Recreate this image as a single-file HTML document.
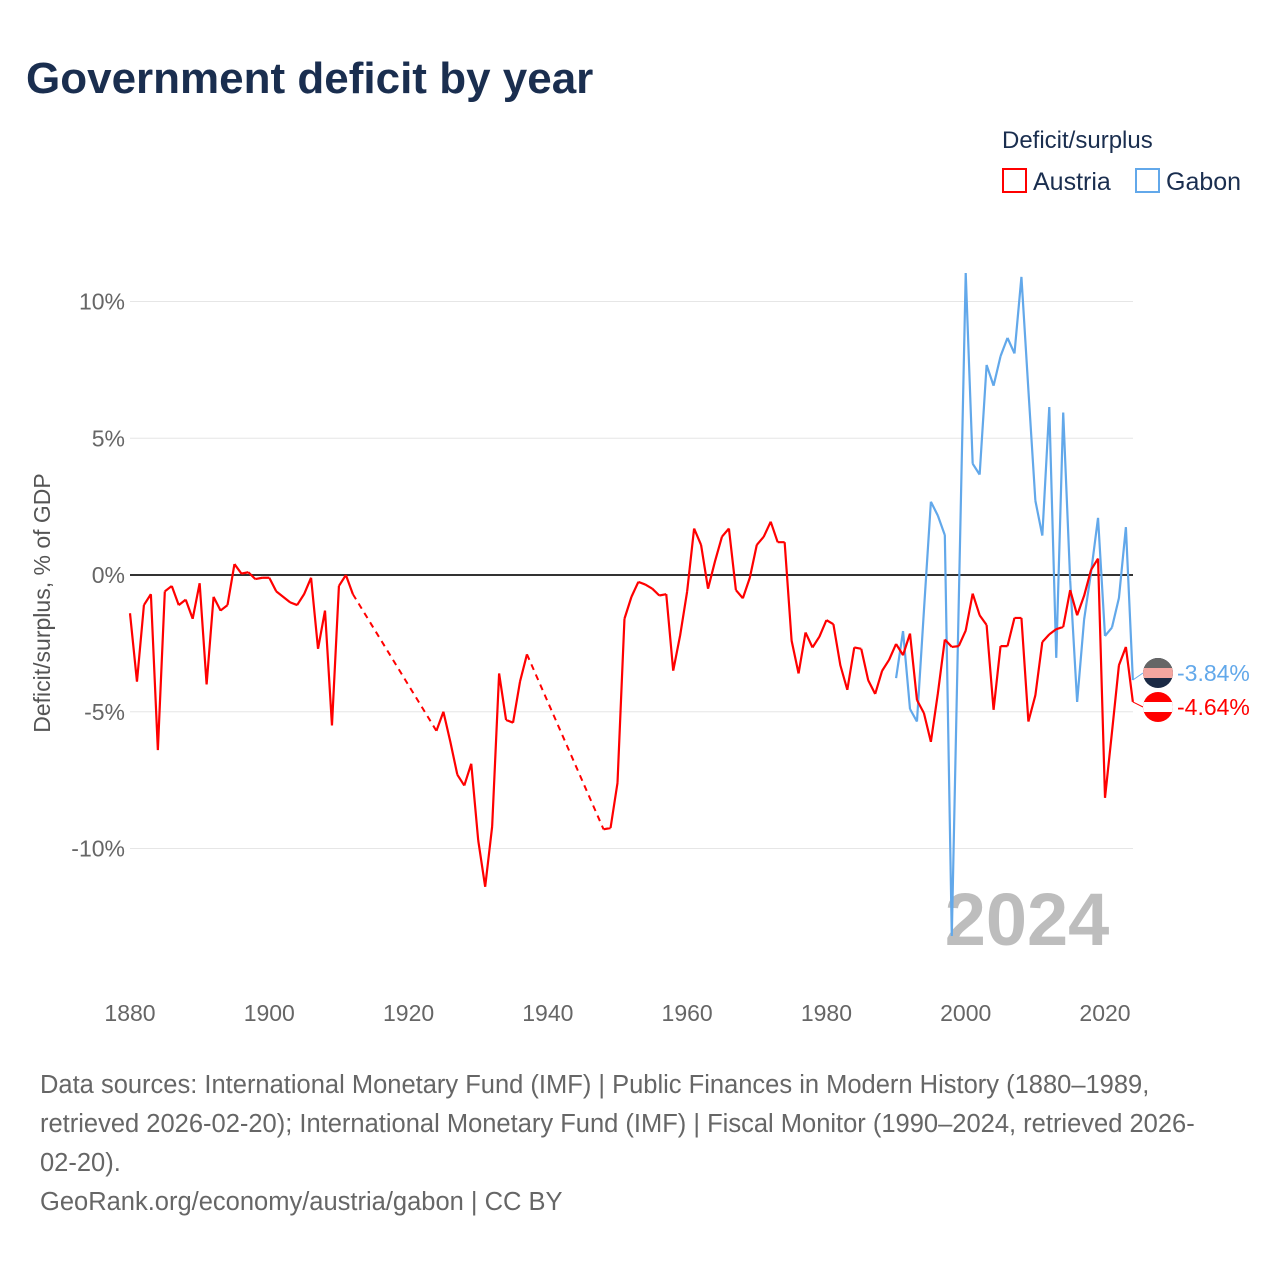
<!DOCTYPE html>
<html><head><meta charset="utf-8"><style>
body{margin:0;background:#fff;}
svg text{font-family:"Liberation Sans",sans-serif;}
</style></head><body>
<svg id="chart" width="1280" height="1280" xmlns="http://www.w3.org/2000/svg">
<defs>
<clipPath id="c1"><circle cx="1158" cy="673" r="15"/></clipPath>
<clipPath id="c2"><circle cx="1158" cy="707" r="15"/></clipPath>
</defs>
<text x="26" y="93" font-size="44" font-weight="bold" fill="#1a2e4f">Government deficit by year</text>
<text x="1002" y="148" font-size="24" fill="#1a2e4f">Deficit/surplus</text>
<g><rect x="1003" y="169" width="23" height="23" fill="none" stroke="#ff0000" stroke-width="2"/><text x="1033" y="190" font-size="25" fill="#1a2e4f">Austria</text></g>
<g><rect x="1136" y="169" width="23" height="23" fill="none" stroke="#62a8ea" stroke-width="2"/><text x="1166" y="190" font-size="25" fill="#1a2e4f">Gabon</text></g>
<text transform="translate(50,603) rotate(-90)" text-anchor="middle" font-size="23" fill="#555">Deficit/surplus, % of GDP</text>
<g id="grid"></g>
<text x="1027" y="945" text-anchor="middle" font-size="74" font-weight="bold" fill="#bdbdbd">2024</text>
<g id="series"></g>
<g id="ends"></g>
<text font-size="25.5" fill="#666"><tspan x="40" y="1093">Data sources: International Monetary Fund (IMF) | Public Finances in Modern History (1880–1989,</tspan><tspan x="40" y="1132">retrieved 2026-02-20); International Monetary Fund (IMF) | Fiscal Monitor (1990–2024, retrieved 2026-</tspan><tspan x="40" y="1171">02-20).</tspan><tspan x="40" y="1210">GeoRank.org/economy/austria/gabon | CC BY</tspan></text>
</svg>
<script>
const yTicks=[10,5,0,-5,-10];
const yTickLabels=["10%","5%","0%","-5%","-10%"];
const xTicks=[1880,1900,1920,1940,1960,1980,2000,2020];
const austriaStart=1880;
const austriaValues=[-1.4,-3.9,-1.1,-0.7,-6.4,-0.6,-0.4,-1.1,-0.9,-1.6,-0.3,-4.0,-0.8,-1.3,-1.1,0.4,0.05,0.1,-0.15,-0.1,-0.1,-0.6,-0.8,-1.0,-1.1,-0.7,-0.1,-2.7,-1.3,-5.5,-0.4,0.0,-0.7,null,null,null,null,null,null,null,null,null,null,null,-5.7,-5.0,-6.1,-7.3,-7.7,-6.9,-9.7,-11.4,-9.2,-3.6,-5.3,-5.4,-3.9,-2.9,null,null,null,null,null,null,null,null,null,null,-9.3,-9.25,-7.6,-1.6,-0.8,-0.25,-0.35,-0.5,-0.75,-0.7,-3.5,-2.2,-0.6,1.7,1.1,-0.5,0.5,1.4,1.7,-0.55,-0.85,-0.1,1.1,1.4,1.95,1.2,1.2,-2.4,-3.6,-2.1,-2.65,-2.25,-1.65,-1.8,-3.3,-4.2,-2.65,-2.7,-3.85,-4.35,-3.5,-3.1,-2.52,-2.93,-2.14,-4.57,-5.05,-6.1,-4.33,-2.36,-2.63,-2.6,-2.03,-0.68,-1.47,-1.83,-4.93,-2.6,-2.6,-1.57,-1.57,-5.36,-4.4,-2.45,-2.17,-1.98,-1.9,-0.55,-1.47,-0.76,0.19,0.6,-8.15,-5.75,-3.3,-2.63,-4.64];
const gabonStart=1990;
const gabonValues=[-3.77,-2.05,-4.9,-5.36,-1.3,2.68,2.17,1.46,-13.2,-1.0,11.04,4.07,3.67,7.68,6.92,8.0,8.67,8.1,10.9,6.76,2.72,1.44,6.14,-3.03,5.94,-0.2,-4.64,-1.63,0.1,2.09,-2.23,-1.92,-0.84,1.75,-3.84];
const NS="http://www.w3.org/2000/svg";
const X=y=>130+(y-1880)*(975/140);
const Y=v=>575-v*27.35;
function mk(t,a,p){const e=document.createElementNS(NS,t);for(const k in a)e.setAttribute(k,a[k]);p.appendChild(e);return e;}
const grid=document.getElementById('grid');
yTicks.forEach((t,i)=>{
 const l=mk('line',{x1:130,x2:1133,y1:Y(t),y2:Y(t),stroke:t===0?'#333':'#e6e6e6','stroke-width':t===0?2:1},grid);
 
 
 const tx=mk('text',{x:125,y:Y(t)+8,'text-anchor':'end','font-size':23,fill:'#666'},grid);
 tx.textContent=yTickLabels[i];
 
 
});
xTicks.forEach(t=>{
 const tx=mk('text',{x:X(t),y:1021,'text-anchor':'middle','font-size':23,fill:'#666'},grid);
 tx.textContent=t;
 
 
});
const ser=document.getElementById('series');
function draw(start,vals,color,name){
 let solid='',dashed='',prev=null,prevIdx=-1;
 vals.forEach((v,i)=>{
  if(v===null)return;
  const px=X(start+i),py=Y(v);
  if(prev!==null){
   if(i-prevIdx===1) solid+=`M${prev[0]},${prev[1]}L${px},${py}`;
   else dashed+=`M${prev[0]},${prev[1]}L${px},${py}`;
  }
  prev=[px,py];prevIdx=i;
 });
 const p=mk('path',{d:solid,fill:'none',stroke:color,'stroke-width':2.2,'stroke-linejoin':'round'},ser);
 
 
 if(dashed){const d=mk('path',{d:dashed,fill:'none',stroke:color,'stroke-width':2,'stroke-dasharray':'6,5'},ser);
 
 }
 return prev;
}
const ga=draw(gabonStart,gabonValues,'#62a8ea','gabon');
const au=draw(austriaStart,austriaValues,'#ff0000','austria');
const ends=document.getElementById('ends');
function endMark(pt,color,name,label,cy,flag,clip){
 mk('line',{x1:pt[0],y1:pt[1],x2:1143,y2:cy,stroke:color,'stroke-width':1},ends);
 const g=mk('g',{'clip-path':'url(#'+clip+')'},ends);
 
 
 if(flag==='at'){
  mk('rect',{x:1143,y:cy-15,width:30,height:30,fill:'#ff0000'},g);
  mk('rect',{x:1143,y:cy-5,width:30,height:10,fill:'#fff'},g);
 }else{
  mk('rect',{x:1143,y:cy-15,width:30,height:30,fill:'#1b2a45'},g);
  mk('rect',{x:1143,y:cy-15,width:30,height:10,fill:'#666'},g);
  mk('rect',{x:1143,y:cy-5,width:30,height:10,fill:'#f4a6a0'},g);
 }
 const t=mk('text',{x:1177,y:cy+8,'font-size':23,fill:color},ends);
 t.textContent=label;
 
 
}
endMark(ga,'#62a8ea','gabon','-3.84%',673,'ga','c1');
endMark(au,'#ff0000','austria','-4.64%',707,'at','c2');
</script>
</body></html>
